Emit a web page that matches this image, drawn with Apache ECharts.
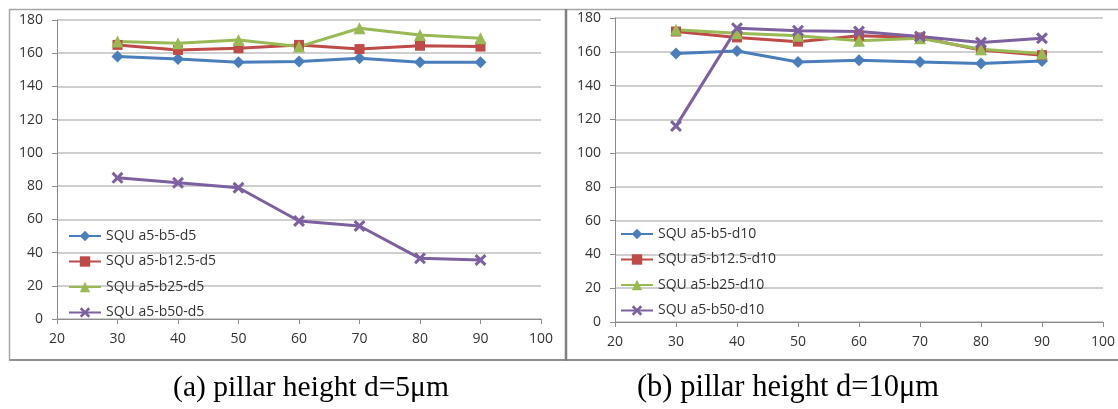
<!DOCTYPE html>
<html>
<head>
<meta charset="utf-8">
<script src="https://cdn.jsdelivr.net/npm/echarts@6/dist/echarts.min.js"></script>
<style>
  html, body { margin: 0; padding: 0; background: #fff; }
  #chart { width: 1118px; height: 409px; }
</style>
</head>
<body>
<div id="chart"></div>
<script>
// x positions shared by every series
const xValues = [30, 40, 50, 60, 70, 80, 90];

// (a) pillar height d=5um
const namesA = ["SQU a5-b5-d5", "SQU a5-b12.5-d5", "SQU a5-b25-d5", "SQU a5-b50-d5"];
const a_b5 = [158, 156.5, 154.5, 155, 157, 154.5, 154.5];
const a_b12 = [165, 162, 163, 165, 162.5, 164.5, 164];
const a_b25 = [167, 166, 168, 164, 175, 171, 169];
const a_b50 = [85, 82, 79, 59, 56, 36.5, 35.5];

// (b) pillar height d=10um
const namesB = ["SQU a5-b5-d10", "SQU a5-b12.5-d10", "SQU a5-b25-d10", "SQU a5-b50-d10"];
const b_b5 = [159, 160.5, 154, 155, 154, 153, 154.5];
const b_b12 = [172, 168.5, 166, 169.5, 168.5, 161, 158];
const b_b25 = [173, 171, 169.5, 166.5, 168, 161.5, 159];
const b_b50 = [116, 174, 172.5, 172, 169, 165.5, 168];

const captions = ["(a) pillar height d=5μm", "(b) pillar height d=10μm"];

const colors = ["#4a7ebb", "#be4b48", "#98b954", "#7d60a0"];
const crossPath = "path://M0,1.8L1.8,0L5,3.2L8.2,0L10,1.8L6.8,5L10,8.2L8.2,10L5,6.8L1.8,10L0,8.2L3.2,5Z";
const symbols = ["diamond", "rect", "triangle", crossPath];
const symbolSizes = [12, 10, 12, 12];

const labelFont = { fontFamily: "Open Sans", fontSize: 14, color: "#333" };

function pairs(vals) {
    return xValues.map((x, i) => [x, vals[i]]);
}

function makeSeries(names, sets, axisIdx) {
    return names.map((name, i) => ({
        name: name,
        type: "line",
        xAxisIndex: axisIdx,
        yAxisIndex: axisIdx,
        data: pairs(sets[i]),
        symbol: symbols[i],
        symbolSize: symbolSizes[i],
        lineStyle: { width: 3, color: colors[i] },
        itemStyle: { color: colors[i] },
        animation: false
    }));
}

function xAxis(gridIdx) {
    return {
        type: "value",
        gridIndex: gridIdx,
        min: 20, max: 100, interval: 10,
        axisLine: { show: true, lineStyle: { color: "#8c8c8c", width: 1 } },
        axisTick: { show: true, length: 5, lineStyle: { color: "#8c8c8c" } },
        splitLine: { show: false },
        axisLabel: Object.assign({ margin: 13 }, labelFont)
    };
}

function yAxis(gridIdx) {
    return {
        type: "value",
        gridIndex: gridIdx,
        min: 0, max: 180, interval: 20,
        axisLine: { show: true, lineStyle: { color: "#8c8c8c", width: 1 } },
        axisTick: { show: true, length: 5, lineStyle: { color: "#8c8c8c" } },
        splitLine: { show: true, lineStyle: { color: "#bfbfbf", width: 1.5 } },
        axisLabel: Object.assign({ margin: 14 }, labelFont)
    };
}

function legend(names, left, top) {
    return {
        data: names,
        orient: "vertical",
        left: left,
        top: top,
        padding: 0,
        itemWidth: 32,
        itemHeight: 13,
        itemGap: 11.5,
        textStyle: labelFont
    };
}

let chart = echarts.init(document.getElementById("chart"));

let options = {
    backgroundColor: "#fff",
    grid: [
        { left: 57, top: 20, width: 484, height: 299 },
        { left: 615, top: 18, width: 488, height: 304 }
    ],
    xAxis: [xAxis(0), xAxis(1)],
    yAxis: [yAxis(0), yAxis(1)],
    legend: [legend(namesA, 68, 229), legend(namesB, 620, 227)],
    series: makeSeries(namesA, [a_b5, a_b12, a_b25, a_b50], 0)
        .concat(makeSeries(namesB, [b_b5, b_b12, b_b25, b_b50], 1)),
    graphic: [
        { type: "line", shape: { x1: 9, y1: 9.5, x2: 1118, y2: 9.5 }, style: { stroke: "#a6a6a6", lineWidth: 1.5 } },
        { type: "line", shape: { x1: 9, y1: 360, x2: 1118, y2: 360 }, style: { stroke: "#909090", lineWidth: 2 } },
        { type: "line", shape: { x1: 9.5, y1: 9, x2: 9.5, y2: 361 }, style: { stroke: "#a6a6a6", lineWidth: 1.5 } },
        { type: "line", shape: { x1: 566, y1: 9, x2: 566, y2: 361 }, style: { stroke: "#808080", lineWidth: 2.5 } },
        {
            type: "text", x: 311, y: 388,
            style: { text: captions[0], font: "29.5px 'Liberation Serif'", fill: "#000", align: "center", verticalAlign: "middle" }
        },
        {
            type: "text", x: 788, y: 388,
            style: { text: captions[1], font: "30.5px 'Liberation Serif'", fill: "#000", align: "center", verticalAlign: "middle" }
        }
    ]
};
chart.setOption(options);
</script>
</body>
</html>
